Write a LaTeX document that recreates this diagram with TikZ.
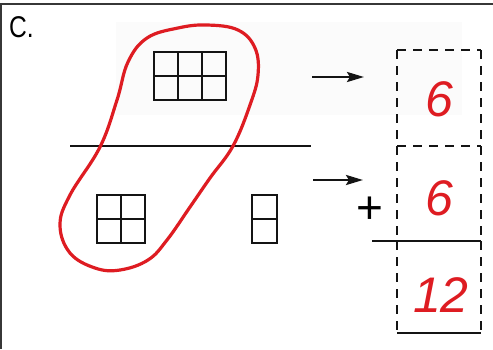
\documentclass[tikz,border=0pt]{standalone}
\usepackage{fontspec}
\setmainfont{Liberation Sans}
\usetikzlibrary{arrows.meta}
\definecolor{pen}{RGB}{222,28,34}
\definecolor{ink}{RGB}{20,20,20}
\begin{document}
\begin{tikzpicture}[x=1pt,y=-1pt,
  gridline/.style={draw=ink,line width=2.2pt},
  frameline/.style={draw=ink!85,line width=2.8pt},
  barline/.style={draw=ink,line width=2.8pt},
  dashline/.style={draw=ink,line width=1.9pt,dash pattern=on 9pt off 7pt},
  solidbox/.style={draw=ink,line width=1.9pt},
  arrowline/.style={draw=ink,line width=2.6pt,-{Stealth[length=17pt,width=10pt,inset=3pt]}},
  loopline/.style={draw=pen,line width=3.2pt},
  digit/.style={text=pen,inner sep=0pt,font=\fontsize{50}{50}\selectfont\itshape},
  label/.style={inner sep=0pt,font=\fontsize{30}{30}\selectfont},
  plusnode/.style={inner sep=0pt,font=\fontsize{46}{46}\selectfont}]
\useasboundingbox (0,0) rectangle (493,349);
\fill[white] (0,0) rectangle (493,349);
\fill[black!1.5] (116,22) rectangle (462,115);
% frame
\draw[frameline] (1,349) -- (1,4) -- (493,4);
\node[label,anchor=west,xscale=0.82] (lab) at (9,27) {C.};
% top grid 3x2
\draw[gridline] (154,52) rectangle (226,100)
  (178,52) -- (178,100) (202,52) -- (202,100) (154,76) -- (226,76);
% fraction bar
\coordinate (barL) at (70,146);
\coordinate (barR) at (311,146);
\draw[barline] (barL) -- (barR);
% bottom-left grid 2x2
\draw[gridline] (97,195) rectangle (145,243)
  (121,195) -- (121,243) (97,219) -- (145,219);
% bottom-right grid 1x2
\draw[gridline] (252,195) rectangle (277,243) (252,219) -- (277,219);
% arrows
\coordinate (a1s) at (312,77); \coordinate (a1e) at (364,77);
\coordinate (a2s) at (313,180); \coordinate (a2e) at (363,180);
\draw[arrowline] (a1s) -- (a1e);
\draw[arrowline] (a2s) -- (a2e);
% dashed column
\coordinate (bTL) at (397,50); \coordinate (bTR) at (481,50);
\coordinate (bML) at (397,146); \coordinate (bMR) at (481,146);
\coordinate (bSL) at (397,241); \coordinate (bSR) at (481,241);
\coordinate (bBL) at (397,333); \coordinate (bBR) at (481,333);
\coordinate (sumL) at (372,241);
\draw[dashline] (bTL) -- (bTR);
\draw[dashline] (bML) -- (bMR);
\draw[dashline] (bTL) -- (bSL);
\draw[dashline] (bTR) -- (bSR);
\draw[dashline] (bSL) -- (bBL);
\draw[dashline] (bSR) -- (bBR);
\draw[solidbox] (bBL) -- (bBR);
\draw[barline] (sumL) -- (bSR);
% numbers
\node[digit] (six1) at (439,99) {6};
\node[digit] (six2) at (439,198) {6};
\node[plusnode] (plus) at (370,210) {+};
\node[digit] (twelve) at (441,295) {12};
% red loop
\draw[loopline] plot[smooth cycle,tension=0.65] coordinates {
  (207,25) (238,30) (255,48) (258,75) (250,105) (233,146) (210,178)
  (190,207) (167,240) (148,260) (120,270) (95,268) (70,253) (60,225)
  (70,195) (100,147) (117,100) (128,62) (147,38) (178,28)};
\end{tikzpicture}
\end{document}
